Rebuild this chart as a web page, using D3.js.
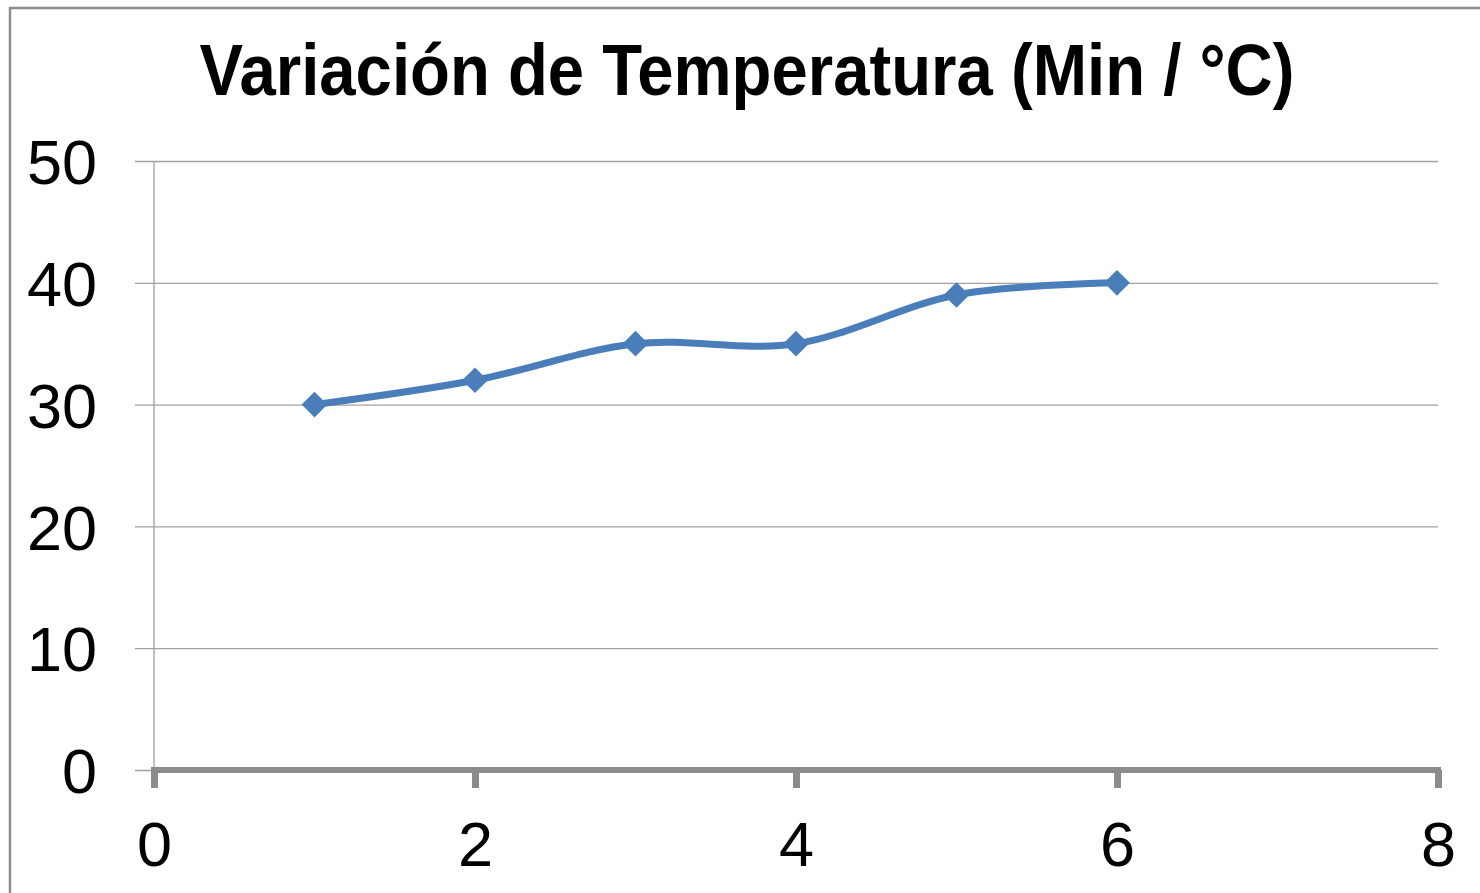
<!DOCTYPE html>
<html>
<head>
<meta charset="utf-8">
<script src="https://cdn.jsdelivr.net/npm/d3@7"></script>
<style>
  body { margin: 0; background: #fff; }
  text { font-family: "Liberation Sans", Arial, sans-serif; fill: #000; }
</style>
</head>
<body>
<script>
// Data
const xValues = [1, 2, 3, 4, 5, 6];
const minTemps = [30, 32, 35, 35, 39, 40];
const xTicks = [0, 2, 4, 6, 8];
const yTicks = [0, 10, 20, 30, 40, 50];
const chartTitle = 'Variación de Temperatura (Min / °C)';

const width = 1480;
const height = 893;
const margin = { top: 161, bottom: 123, left: 154, right: 42 };

const svg = d3.select('body')
    .append('svg')
    .attr('width', width)
    .attr('height', height);

// outer chart border
svg.append('rect')
    .attr('x', 10).attr('y', 8)
    .attr('width', 1520).attr('height', 920)
    .attr('fill', '#fff')
    .attr('stroke', '#8c8c8c')
    .attr('stroke-width', 2.5);

// title
svg.append('text')
    .attr('x', 747).attr('y', 95)
    .attr('text-anchor', 'middle')
    .attr('font-size', 72)
    .attr('font-weight', 'bold')
    .attr('textLength', 1095)
    .attr('lengthAdjust', 'spacingAndGlyphs')
    .text(chartTitle);

// scales
const xscale = d3.scaleLinear().domain([0, 8]).range([margin.left, width - margin.right]);
const yscale = d3.scaleLinear().domain([0, 50]).range([height - margin.bottom, margin.top]);

// horizontal gridlines + y ticks (ticks run 19px left of the axis)
const yaxis = d3.axisLeft(yscale)
    .tickValues(yTicks)
    .tickSize(-(xscale(8) - xscale(0)))
    .tickPadding(0)
    .tickFormat(d3.format('d'));
const g_yaxis = svg.append('g')
    .attr('transform', `translate(${margin.left},0)`)
    .call(yaxis);
g_yaxis.select('.domain').remove();
g_yaxis.selectAll('.tick line')
    .attr('x1', -19)
    .attr('stroke', '#a0a0a0')
    .attr('stroke-width', 1.3);
g_yaxis.selectAll('.tick text')
    .attr('x', -57)
    .attr('dy', '0.36em')
    .attr('font-size', 63)
    .attr('font-family', '"Liberation Sans", Arial, sans-serif');

// vertical y axis line
svg.append('line')
    .attr('x1', xscale(0)).attr('x2', xscale(0))
    .attr('y1', yscale(50)).attr('y2', yscale(0))
    .attr('stroke', '#a0a0a0')
    .attr('stroke-width', 1.3);

// x axis: thick grey line with thick ticks
const xaxis = d3.axisBottom(xscale)
    .tickValues(xTicks)
    .tickSize(18)
    .tickPadding(0)
    .tickFormat(d3.format('d'));
const g_xaxis = svg.append('g')
    .attr('transform', `translate(0,${yscale(0)})`)
    .call(xaxis);
g_xaxis.select('.domain')
    .attr('d', `M${xscale(0) - 3},0H${xscale(8) + 3}`)
    .attr('stroke', '#8c8c8c')
    .attr('stroke-width', 6);
g_xaxis.selectAll('.tick line')
    .attr('stroke', '#8c8c8c')
    .attr('stroke-width', 7);
g_xaxis.selectAll('.tick text')
    .attr('y', 96)
    .attr('dy', 0)
    .attr('font-size', 63)
    .attr('font-family', '"Liberation Sans", Arial, sans-serif');

// series
const points = xValues.map((x, i) => ({ x: x, y: minTemps[i] }));

const line = d3.line()
    .x((d) => xscale(d.x))
    .y((d) => yscale(d.y))
    .curve(d3.curveCardinal.tension(0));

svg.append('path')
    .datum(points)
    .attr('d', line)
    .attr('fill', 'none')
    .attr('stroke', '#4a7ebb')
    .attr('stroke-width', 7)
    .attr('stroke-linejoin', 'round');

// diamond markers
svg.selectAll('.marker')
    .data(points)
    .join('path')
    .attr('class', 'marker')
    .attr('d', d3.symbol().type(d3.symbolSquare).size(330))
    .attr('transform', (d) => `translate(${xscale(d.x)},${yscale(d.y)}) rotate(45)`)
    .attr('fill', '#4a7ebb');
</script>
</body>
</html>
